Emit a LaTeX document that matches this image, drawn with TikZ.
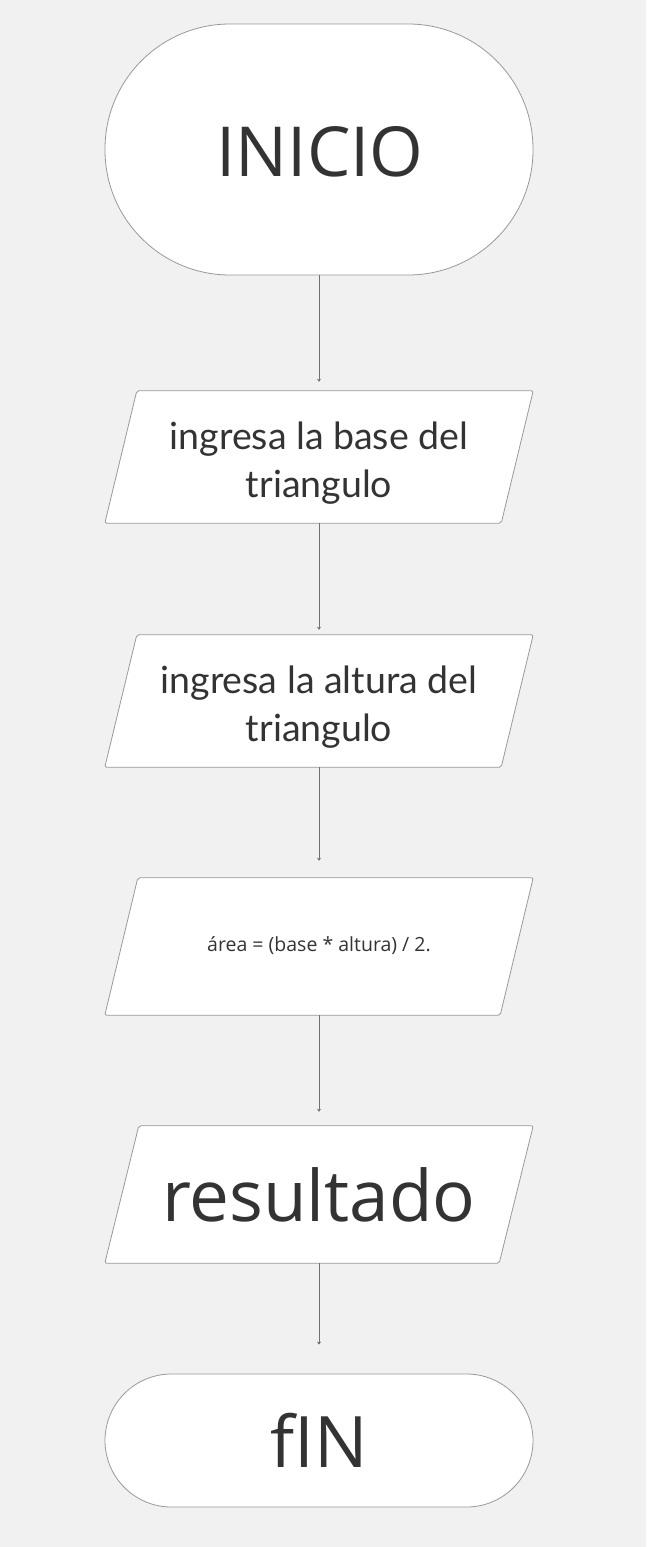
\documentclass[tikz,border=0pt]{standalone}
\usepackage{fontspec}
\newfontfamily\osfont{Open Sans}
\newfontfamily\latofont{Lato}
\usetikzlibrary{arrows.meta}
\definecolor{bg}{HTML}{F1F1F1}
\definecolor{edge}{HTML}{999999}
\definecolor{txt}{HTML}{333333}
\definecolor{wire}{HTML}{707070}
\tikzset{
  terminal/.style={draw=edge, fill=white, line width=0.8pt, minimum width=428pt, inner sep=0pt, text=txt},
  iobox/.style={minimum width=428pt, inner sep=0pt, text=txt, align=center},
  para/.style={draw=edge, fill=white, line width=0.8pt, rounded corners=2pt},
  flow/.style={draw=wire, line width=0.8pt, -{Stealth[length=3pt,width=4pt]}}
}
\newcommand{\drawpara}[2]{%
  \path[para] ([xshift=#2]#1.north west) -- (#1.north east) -- ([xshift=-#2]#1.south east) -- (#1.south west) -- cycle;}
\begin{document}
\begin{tikzpicture}[x=1pt,y=-1pt]
\useasboundingbox[fill=bg] (0,0) rectangle (646,1547);

\node[terminal, minimum height=251pt, rounded corners=125pt] (start) at (319,149.5) {};
\node[text=txt, inner sep=0pt, font=\osfont\fontsize{69}{80}\selectfont] (tstart) at (320,152) {INICIO};

\node[iobox, minimum height=132pt] (p1) at (319,457) {};
\drawpara{p1}{32pt}
\node[iobox, font=\latofont\fontsize{37.5}{48}\selectfont] (t1) at (319,463) {ingresa la base del\\triangulo};

\node[iobox, minimum height=132pt] (p2) at (319,701) {};
\drawpara{p2}{32pt}
\node[iobox, font=\latofont\fontsize{37.5}{48}\selectfont] (t2) at (319,707) {ingresa la altura del\\triangulo};

\node[iobox, minimum height=137pt] (p3) at (319,946.5) {};
\drawpara{p3}{33pt}
\node[iobox, font=\osfont\fontsize{19.5}{24}\selectfont] (t3) at (319,946) {área = (base * altura) / 2.};

\node[iobox, minimum height=137pt] (p4) at (319,1194.5) {};
\drawpara{p4}{34pt}
\node[iobox, font=\osfont\fontsize{71}{80}\selectfont] (t4) at (p4.center) {resultado};

\node[terminal, minimum height=133pt, rounded corners=66.5pt, font=\osfont\fontsize{71}{80}\selectfont] (stop) at (319,1440.5) {fIN};

\draw[flow, shorten >=9pt] (start.south) -- (p1.north);
\draw[flow, shorten >=5pt] (p1.south) -- (p2.north);
\draw[flow, shorten >=17pt] (p2.south) -- (p3.north);
\draw[flow, shorten >=14pt] (p3.south) -- (p4.north);
\draw[flow, shorten >=29pt] (p4.south) -- (stop.north);
\end{tikzpicture}
\end{document}
